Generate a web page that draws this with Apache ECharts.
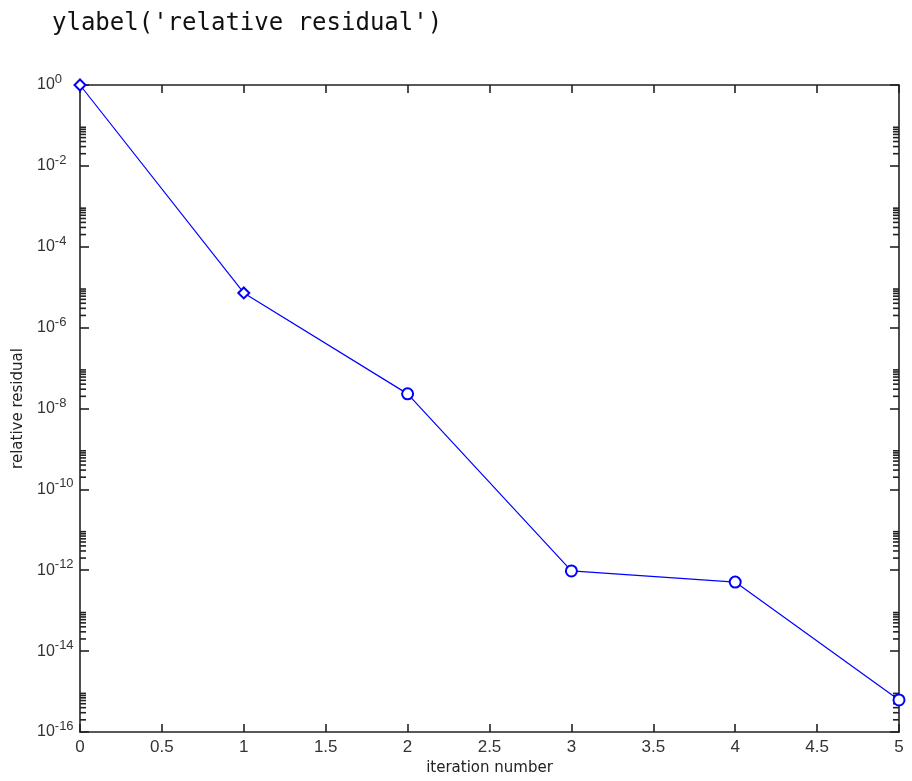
<!DOCTYPE html>
<html>
<head>
<meta charset="utf-8">
<script src="https://cdn.jsdelivr.net/npm/echarts@6/dist/echarts.min.js"></script>
<style>
html,body{margin:0;padding:0;background:#fff;}
#chart{width:912px;height:781px;}
</style>
</head>
<body>
<div id="chart"></div>
<script>
// ---- data ----
const iterations = [0, 1, 2, 3, 4, 5];
const residuals = [1, 7.2e-6, 2.3e-8, 9.6e-13, 5.1e-13, 6.2e-16];
const markerShapes = ['emptyDiamond', 'emptyDiamond', 'emptyCircle', 'emptyCircle', 'emptyCircle', 'emptyCircle'];
const minorMantissas = [2, 3, 4, 5, 6, 7, 8, 9];
const minorDecades = [-16, -14, -12, -10, -8, -6, -4, -2];
const headerText = "ylabel('relative residual')";
const xTitle = 'iteration number';
const yTitle = 'relative residual';

// minor tick positions (MATLAB style, only in labelled decades)
const minorTicks = [];
minorDecades.forEach(function (d) {
  minorMantissas.forEach(function (m) { minorTicks.push([0, m * Math.pow(10, d)]); });
});

const axisColor = '#222';
const chart = echarts.init(document.getElementById('chart'), null, {renderer: 'canvas'});

const commonX = {
  type: 'value', min: 0, max: 5, interval: 0.5,
  axisLine: {show: true, onZero: false, lineStyle: {color: axisColor, width: 1.6}},
  axisTick: {show: true, inside: true, length: 8, lineStyle: {color: axisColor, width: 1.6}},
  splitLine: {show: false}
};
const commonY = {
  type: 'log', logBase: 10, min: 1e-16, max: 1, interval: 2,
  axisLine: {show: true, onZero: false, lineStyle: {color: axisColor, width: 1.6}},
  axisTick: {show: true, inside: true, length: 9, lineStyle: {color: axisColor, width: 1.6}},
  splitLine: {show: false}
};

chart.setOption({
  animation: false,
  backgroundColor: '#fff',
  title: {
    text: headerText, left: 47, top: 7,
    textStyle: {fontFamily: 'DejaVu Sans Mono', fontSize: 24, fontWeight: 'normal', color: '#111'}
  },
  grid: {left: 80, right: 13, top: 85, bottom: 49, containLabel: false},
  xAxis: [
    Object.assign({}, commonX, {
      position: 'bottom',
      name: xTitle, nameLocation: 'middle', nameGap: 29,
      nameTextStyle: {fontFamily: 'DejaVu Sans', fontSize: 15, color: '#222'},
      axisLabel: {show: true, margin: 7, fontFamily: 'Liberation Sans', fontSize: 17, color: '#333',
        formatter: function (v) { return String(v); }}
    }),
    Object.assign({}, commonX, {position: 'top', axisLabel: {show: false}})
  ],
  yAxis: [
    Object.assign({}, commonY, {
      position: 'left',
      name: yTitle, nameLocation: 'middle', nameGap: 53, nameRotate: 90,
      nameTextStyle: {fontFamily: 'DejaVu Sans', fontSize: 15, color: '#222'},
      axisLabel: {
        show: true, margin: 43, align: 'left', fontFamily: 'Liberation Sans', fontSize: 15, color: '#333',
        formatter: function (v) {
          const e = Math.round(Math.log10(v));
          return '{b|10}{s|' + e + '}';
        },
        rich: {
          b: {fontFamily: 'Liberation Sans', fontSize: 16, color: '#333', lineHeight: 24},
          s: {fontFamily: 'Liberation Sans', fontSize: 13, color: '#333', verticalAlign: 'top', lineHeight: 12}
        }
      }
    }),
    Object.assign({}, commonY, {position: 'right', axisLabel: {show: false}})
  ],
  series: [
    {
      type: 'custom',
      xAxisIndex: 0, yAxisIndex: 0,
      silent: true,
      clip: false,
      data: minorTicks,
      renderItem: function (params, api) {
        const v = api.value(1);
        const pl = api.coord([0, v]);
        const pr = api.coord([5, v]);
        const st = {stroke: axisColor, lineWidth: 1.6};
        return {
          type: 'group',
          children: [
            {type: 'line', shape: {x1: pl[0], y1: pl[1], x2: pl[0] + 6, y2: pl[1]}, style: st},
            {type: 'line', shape: {x1: pr[0] - 6, y1: pr[1], x2: pr[0], y2: pr[1]}, style: st}
          ]
        };
      },
      z: 3
    },
    {
      type: 'line',
      xAxisIndex: 0, yAxisIndex: 0,
      data: iterations.map(function (x, i) {
        return {value: [x, residuals[i]], symbol: markerShapes[i]};
      }),
      symbolSize: 11,
      showAllSymbol: true,
      clip: false,
      lineStyle: {color: '#0000ff', width: 1.2},
      itemStyle: {color: '#0000ff', borderColor: '#0000ff', borderWidth: 1.3},
      z: 5
    }
  ]
});
</script>
</body>
</html>
